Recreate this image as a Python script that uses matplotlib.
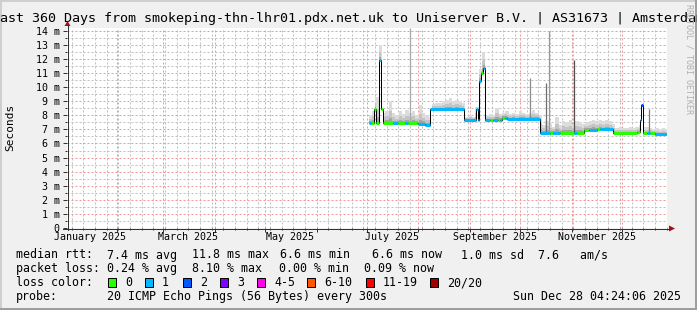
# =============================================================================
# SmokePing style latency chart - last 360 days
# =============================================================================

import datetime as dt

import numpy as np
import matplotlib
matplotlib.use("Agg")
import matplotlib.pyplot as plt
import matplotlib.dates as mdates
from matplotlib.patches import Rectangle, Polygon
from matplotlib.lines import Line2D
from matplotlib.ticker import MultipleLocator, FuncFormatter, NullFormatter
from matplotlib.transforms import blended_transform_factory

# =============================================================================
# DATA
# =============================================================================

title = ("Last 360 Days from smokeping-thn-lhr01.pdx.net.uk to "
         "Uniserver B.V. | AS31673 | Amsterdam")
start_time = dt.datetime(2025, 1, 2, 4, 24, 6)
span_days = 360

# median rtt as steps: start day (from start_time), value in ms, loss level
med_start = [181.2, 182.5, 184.3, 185.3, 187.2, 188.4, 189.4, 195.8, 198.8, 203.0,
             204.5, 209.8, 210.8, 214.8, 218.0, 237.9, 245.2, 246.4, 247.4, 248.6,
             249.8, 250.8, 254.0, 255.5, 258.5, 260.0, 261.2, 262.5, 264.0, 283.8,
             290.0, 291.5, 296.0, 304.0, 306.0, 310.0, 313.0, 318.0, 320.0, 327.8,
             342.0, 343.6, 344.6, 345.6, 348.0, 349.5, 352.5]
med_value = [7.48, 7.48, 8.43, 7.48, 11.9, 8.43, 7.46, 7.46, 7.46, 7.46,
             7.46, 7.44, 7.40, 7.34, 8.43, 7.68, 8.43, 7.68, 10.45, 11.0,
             11.35, 7.68, 7.68, 7.68, 7.70, 7.70, 7.84, 7.84, 7.75, 6.78,
             6.78, 6.78, 6.76, 6.76, 6.76, 6.98, 6.98, 7.0, 7.0, 6.72,
             6.84, 7.68, 8.75, 6.72, 6.72, 6.72, 6.66]
med_loss = [1, 0, 0, 0, 1, 0, 0, 1, 0, 1,
            0, 0, 1, 1, 1, 1, 1, 1, 1, 0,
            1, 1, 0, 1, 0, 1, 0, 1, 1, 1,
            0, 1, 0, 1, 0, 0, 1, 0, 1, 0,
            0, 1, 2, 0, 1, 0, 1]
med_end = 360.0

# smoke (highest ping) every 2 days, starting at day 181
smoke_first_day = 181
smoke_step = 2
smoke_top = [8.0, 8.3, 9.3, 13.0, 8.2, 8.3, 9.0, 8.2, 8.0, 8.3,
             8.1, 8.4, 8.2, 8.3, 8.0, 8.7, 8.2, 8.0, 7.9, 8.8,
             8.9, 8.9, 9.0, 9.1, 9.2, 9.0, 9.1, 9.0, 8.9, 7.9,
             8.0, 7.9, 8.6, 11.3, 12.5, 8.0, 8.1, 8.0, 8.5, 8.1,
             8.2, 8.3, 8.1, 8.2, 8.1, 8.3, 8.2, 8.1, 8.2, 8.4,
             8.2, 8.0, 7.3, 7.6, 7.4, 7.2, 7.9, 7.3, 7.6, 7.5,
             7.7, 7.4, 7.6, 7.5, 7.4, 7.5, 7.6, 7.7, 7.6, 7.7,
             7.6, 7.7, 7.6, 7.4, 7.1, 7.2, 7.1, 7.1, 7.2, 7.1,
             7.2, 7.3, 7.2, 7.2, 7.1, 7.0, 7.1, 7.0, 7.1, 7.0]

# single tall smoke columns (day, highest ping ms)
spike_day = [205.8, 278.0, 287.2, 289.2, 303.9, 348.9]
spike_top = [14.2, 10.64, 10.33, 14.0, 11.9, 8.43]

loss_labels = ["0", "1", "2", "3", "4-5", "6-10", "11-19", "20/20"]

x_labels = ["January 2025", "March 2025", "May 2025",
            "July 2025", "September 2025", "November 2025"]
x_label_months = [1, 3, 5, 7, 9, 11]

rtt_items = ["median rtt:", "7.4 ms avg", "11.8 ms max", "6.6 ms min",
             "6.6 ms now", "1.0 ms sd  7.6   am/s"]
loss_items = ["packet loss:", "0.24 % avg", "8.10 % max", "0.00 % min", "0.09 % now"]
probe_items = ["probe:", "20 ICMP Echo Pings (56 Bytes) every 300s"]
stamp = "Sun Dec 28 04:24:06 2025"

# =============================================================================
# STYLE
# =============================================================================

W, H = 697, 310
MONO = "DejaVu Sans Mono"
BACK = "#f0f0f0"
loss_colors = ["#26ff00", "#00b8ff", "#0059ff", "#7e00ff",
               "#ff00ea", "#ff5500", "#ff0000", "#a00000"]
spike_grays = ["#a8a8a8", "#8c8c8c", "#6e6e6e", "#9a9a9a", "#505050", "#7a7a7a"]
PX = 0.72  # one pixel in points
plt.rcParams["lines.scale_dashes"] = False


def fx(px):
    return px / W


def fy(py):
    return 1 - py / H


fig = plt.figure(figsize=(W / 100, H / 100), dpi=100)
fig.patch.set_facecolor(BACK)

# rrdtool shaded frame
fig.add_artist(Rectangle((0, fy(2)), 1, 2 / H, transform=fig.transFigure,
                         color="#cfcfcf", lw=0))
fig.add_artist(Rectangle((0, 0), 2 / W, 1, transform=fig.transFigure,
                         color="#cfcfcf", lw=0))
fig.add_artist(Rectangle((0, 0), 1, 2 / H, transform=fig.transFigure,
                         color="#9e9e9e", lw=0))
fig.add_artist(Rectangle((fx(W - 2), 0), 2 / W, 1, transform=fig.transFigure,
                         color="#9e9e9e", lw=0))

ax = fig.add_axes([fx(67), fy(228), 600 / W, 200 / H])
ax.set_facecolor("white")
for s in ax.spines.values():
    s.set_visible(False)

x0 = mdates.date2num(start_time)
ax.set_xlim(x0, x0 + span_days)
ax.set_ylim(0, 14.2)

# =============================================================================
# GRID AND TICKS
# =============================================================================

ax.xaxis.set_major_locator(mdates.MonthLocator())
ax.xaxis.set_minor_locator(mdates.WeekdayLocator(byweekday=mdates.SU))
ax.xaxis.set_major_formatter(NullFormatter())
ax.xaxis.set_minor_formatter(NullFormatter())
ax.yaxis.set_major_locator(MultipleLocator(1))
ax.yaxis.set_minor_locator(MultipleLocator(0.5))
ax.yaxis.set_major_formatter(FuncFormatter(lambda v, p: "0" if v == 0 else f"{int(round(v))} m"))

dots = (0, (1.44, 1.44))
ax.grid(True, which="minor", color="#c0c0c0", linestyle=dots, lw=PX, zorder=0)
ax.grid(True, which="major", color="#ee9a9a", linestyle=dots, lw=PX, zorder=0)
ax.set_axisbelow(True)

ax.tick_params(which="major", direction="out", length=3, width=PX, color="#333333",
               labelsize=7.2, pad=2.4)
ax.tick_params(which="minor", direction="out", length=1.4, width=PX, color="#333333")
for lab in ax.get_yticklabels():
    lab.set_family(MONO)

xt = blended_transform_factory(ax.transData, fig.transFigure)
for lab, m in zip(x_labels, x_label_months):
    ax.text(mdates.date2num(dt.datetime(2025, m, 16)), fy(240.5), lab, transform=xt,
            ha="center", va="baseline", fontsize=7.2, family=MONO)

# =============================================================================
# SMOKE
# =============================================================================

med_edges = np.append(med_start, med_end)
smoke_edges = smoke_first_day + smoke_step * np.arange(len(smoke_top) + 1)
edges = np.union1d(med_edges, smoke_edges)
edges = edges[(edges >= med_edges[0]) & (edges <= med_end)]
left = edges[:-1]
base = np.asarray(med_value)[np.searchsorted(med_edges, left, side="right") - 1]
i_sm = np.clip(np.searchsorted(smoke_edges, left, side="right") - 1, 0, len(smoke_top) - 1)
top = np.maximum(np.asarray(smoke_top)[i_sm], base)

for frac, cor in [(1.0, "#dcdcdc"), (0.55, "#c4c4c4"), (0.22, "#a4a4a4")]:
    lvl = base + frac * (top - base)
    ax.stairs(lvl, x0 + edges, baseline=base, fill=True, color=cor, lw=0, zorder=2)

spike_base = np.asarray(med_value)[np.searchsorted(med_edges, spike_day, side="right") - 1]
ax.vlines(x0 + np.asarray(spike_day), spike_base, spike_top, colors=spike_grays,
          lw=0.9, zorder=2.5)

# =============================================================================
# MEDIAN
# =============================================================================

ax.stairs(med_value, x0 + med_edges, baseline=None, color="black", lw=PX, zorder=3)
ax.hlines(med_value, x0 + med_edges[:-1], x0 + med_edges[1:],
          colors=[loss_colors[k] for k in med_loss], lw=2.2, zorder=4)

# =============================================================================
# AXES WITH ARROWS
# =============================================================================

fig.add_artist(Line2D([fx(67.5), fx(67.5)], [fy(230), fy(25)], transform=fig.transFigure,
                      color="#333333", lw=PX))
fig.add_artist(Line2D([fx(63), fx(670)], [fy(228.5), fy(228.5)], transform=fig.transFigure,
                      color="#333333", lw=PX))
fig.add_artist(Polygon([[fx(64.5), fy(26)], [fx(70.5), fy(26)], [fx(67.5), fy(21)]],
                       closed=True, transform=fig.transFigure, color="#a01010", lw=0))
fig.add_artist(Polygon([[fx(669), fy(225.5)], [fx(669), fy(231.5)], [fx(675), fy(228.5)]],
                       closed=True, transform=fig.transFigure, color="#a01010", lw=0))

# =============================================================================
# TEXTS
# =============================================================================

fig.text(0.5, fy(22.3), title, ha="center", va="baseline", fontsize=9.6, family=MONO)
fig.text(fx(10), fy(127), "Seconds", rotation=90, ha="center", va="center",
         fontsize=8, family=MONO)
fig.text(fx(688.5), fy(4), "RRDTOOL / TOBI OETIKER", rotation=-90, ha="center", va="top",
         fontsize=6, family=MONO, color="#b0b0b0")

LEG = 8.4
for txt, px in zip(rtt_items, [16, 107, 192, 280, 372, 461]):
    fig.text(fx(px), fy(258.5), txt, ha="left", va="baseline", fontsize=LEG, family=MONO)
for txt, px in zip(loss_items, [16, 107, 192, 279, 364]):
    fig.text(fx(px), fy(272), txt, ha="left", va="baseline", fontsize=LEG, family=MONO)

fig.text(fx(16), fy(286), "loss color:", ha="left", va="baseline", fontsize=LEG, family=MONO)
for lab, cor, px in zip(loss_labels, loss_colors, [108, 145, 183, 220, 257, 307, 366, 430]):
    fig.add_artist(Rectangle((fx(px), fy(286.5)), 8 / W, 8.5 / H, transform=fig.transFigure,
                             facecolor=cor, edgecolor="black", lw=PX))
    fig.text(fx(px + 17), fy(286), lab, ha="left", va="baseline", fontsize=LEG, family=MONO)

for txt, px in zip(probe_items, [16, 107]):
    fig.text(fx(px), fy(300), txt, ha="left", va="baseline", fontsize=LEG, family=MONO)
fig.text(fx(681), fy(300), stamp, ha="right", va="baseline", fontsize=LEG, family=MONO)

fig.savefig("out.png", dpi=100, facecolor=fig.get_facecolor())
